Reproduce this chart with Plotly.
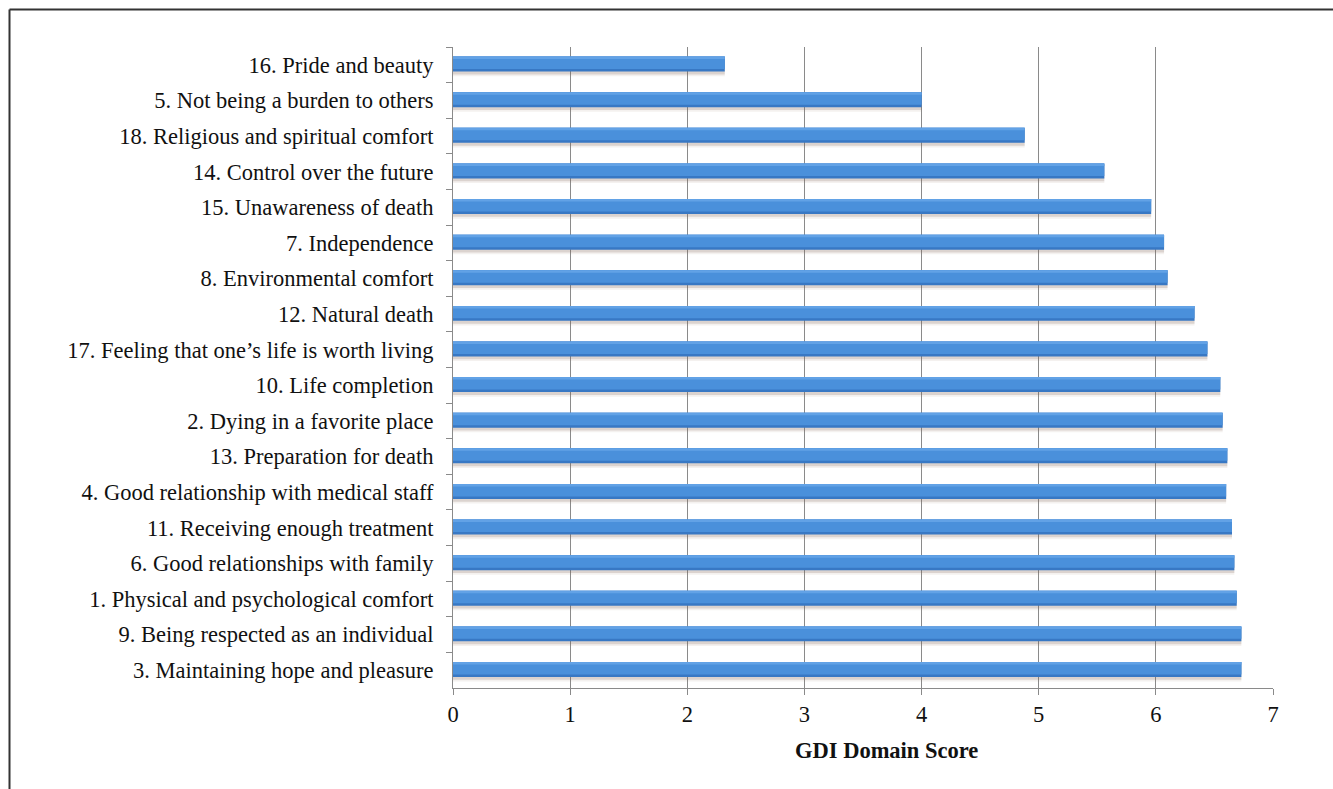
import plotly.graph_objects as go

# GDI domains, listed top to bottom
domains = [
    "16. Pride and beauty",
    "5. Not being a burden to others",
    "18. Religious and spiritual comfort",
    "14. Control over the future",
    "15. Unawareness of death",
    "7. Independence",
    "8. Environmental comfort",
    "12. Natural death",
    "17. Feeling that one\u2019s life is worth living",
    "10. Life completion",
    "2. Dying in a favorite place",
    "13. Preparation for death",
    "4. Good relationship with medical staff",
    "11. Receiving enough treatment",
    "6. Good relationships with family",
    "1. Physical and psychological comfort",
    "9. Being respected as an individual",
    "3. Maintaining hope and pleasure",
]
scores = [2.32, 4.00, 4.88, 5.56, 5.96, 6.07, 6.10, 6.33, 6.44,
          6.55, 6.57, 6.61, 6.60, 6.65, 6.67, 6.69, 6.73, 6.73]
x_ticks = [0, 1, 2, 3, 4, 5, 6, 7]

FONT = "Liberation Serif, Times New Roman, serif"
FS = 22.5


def bar_layer(width, offset, color, hover=False):
    return go.Bar(
        y=domains, x=scores, orientation="h",
        width=width, offset=offset,
        marker=dict(color=color, line=dict(width=0)),
        hoverinfo=None if hover else "skip", showlegend=False,
    )


fig = go.Figure()
# soft drop shadow beneath each bar
fig.add_trace(bar_layer(0.52, -0.20, "rgba(150,120,100,0.10)"))
fig.add_trace(bar_layer(0.46, -0.19, "rgba(120,95,80,0.20)"))
# bar body with a darker lower edge and a light upper edge
fig.add_trace(bar_layer(0.42, -0.23, "#3878C4", hover=True))
fig.add_trace(bar_layer(0.35, -0.23, "#4A90DB"))
fig.add_trace(bar_layer(0.07, -0.23, "#62A2E6"))

L, R, T, B = 453, 60, 47, 101
W, H = 1333, 789
pw, ph = W - L - R, H - T - B


def px_x(p):
    return (p - L) / pw


def px_y(p):
    return 1 - (p - T) / ph


frame = dict(color="#333333", width=2)
fig.add_shape(type="line", xref="paper", yref="paper",
              x0=px_x(9.5), x1=px_x(1340), y0=px_y(9.5), y1=px_y(9.5), line=frame)
fig.add_shape(type="line", xref="paper", yref="paper",
              x0=px_x(9.5), x1=px_x(9.5), y0=px_y(9.5), y1=px_y(800), line=frame)

# x-axis title
fig.add_annotation(
    text="<b>GDI Domain Score</b>", xref="paper", yref="paper",
    x=px_x(886), y=px_y(750), xanchor="center", yanchor="middle",
    showarrow=False, font=dict(family=FONT, size=FS, color="#111111"),
)

fig.update_layout(
    width=W, height=H,
    margin=dict(l=L, r=R, t=T, b=B, pad=0),
    paper_bgcolor="white", plot_bgcolor="white",
    barmode="overlay",
    font=dict(family=FONT, color="#111111", size=FS),
    xaxis=dict(
        range=[0, 7], tickvals=x_ticks, ticktext=[str(v) for v in x_ticks],
        showgrid=True, gridcolor="#8a8a8a", gridwidth=1,
        showline=True, linecolor="#8a8a8a", linewidth=1,
        ticks="outside", ticklen=6, tickcolor="#8a8a8a",
        tickfont=dict(family=FONT, size=FS, color="#111111"),
        zeroline=False, fixedrange=True,
    ),
    yaxis=dict(
        autorange="reversed", type="category",
        showline=True, linecolor="#8a8a8a", linewidth=1,
        ticks="outside", ticklen=6, tickcolor="#8a8a8a", tickson="boundaries",
        tickfont=dict(family=FONT, size=FS, color="#111111"),
        ticklabelstandoff=14,
        showgrid=False, fixedrange=True,
    ),
)

fig.write_html("out.html")
